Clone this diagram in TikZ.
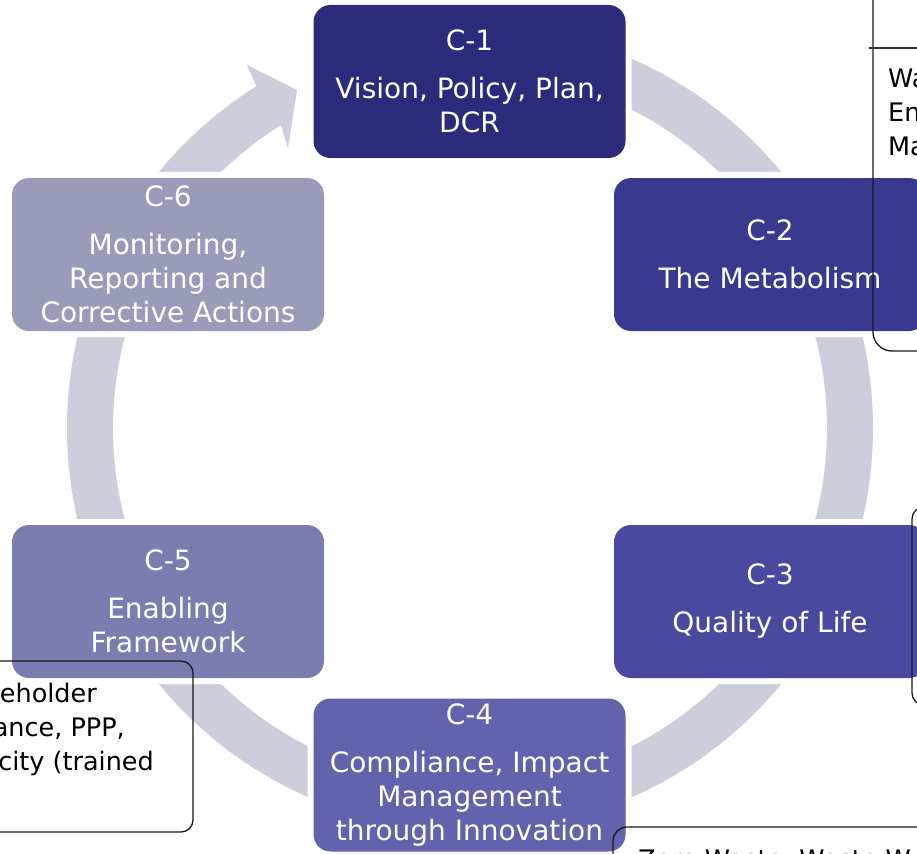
\documentclass[tikz,border=0pt]{standalone}
\usepackage{fontspec}
\setmainfont{DejaVu Sans}
\definecolor{ringc}{HTML}{CDCEDC}
\definecolor{cA}{HTML}{2B2A7B}
\definecolor{cB}{HTML}{393A8F}
\definecolor{cC}{HTML}{4949A0}
\definecolor{cD}{HTML}{6262AD}
\definecolor{cE}{HTML}{7C7CB1}
\definecolor{cF}{HTML}{9A9ABA}
\begin{document}
\begin{tikzpicture}[x=1pt,y=1pt,
  stagebox/.style={rounded corners=17pt, minimum width=312pt, minimum height=153pt,
    inner sep=0pt, align=center, text=white, font=\fontsize{28}{34}\selectfont,
    preaction={draw=white, line width=12pt}},
  callout/.style={draw=black!90, line width=1.3pt},
  ctext/.style={text=black, inner sep=0pt, font=\fontsize{25.5}{34}\selectfont}]
\useasboundingbox (0,0) rectangle (917,-853);
\fill[white] (0,0) rectangle (917,-853);
% cycle ring with arrow head
\fill[ringc] (470,-428) ++(90:403) arc[start angle=90, end angle=-238, radius=403]
  -- (247,-65) -- (297,-90) -- (288,-148) -- (280.82,-125.25)
  arc[start angle=-238, end angle=90, radius=357] -- cycle;
% stage boxes
\node[stagebox, fill=cA] (c1) at (469.5,-81.5) {C-1\\[14pt]Vision, Policy, Plan,\\DCR};
\node[stagebox, fill=cB] (c2) at (770,-254.5) {C-2\\[14pt]The Metabolism};
\node[stagebox, fill=cC] (c3) at (770,-601.5) {C-3\\[14pt]Quality of Life};
\node[stagebox, fill=cD] (c4) at (469.5,-775) {C-4\\[14pt]Compliance, Impact\\Management\\through Innovation};
\node[stagebox, fill=cE] (c5) at (168,-601.5) {C-5\\[14pt]Enabling\\Framework};
\node[stagebox, fill=cF] (c6) at (168,-254.5) {C-6\\[14pt]Monitoring,\\Reporting and\\Corrective Actions};
% callout outlines (partly outside the page)
\draw[callout, rounded corners=19pt] (873,10) -- (873,-351) -- (930,-351);
\draw[line width=2pt, black!80] (869,-48) -- (930,-48);
\draw[callout, rounded corners=12pt] (930,-507) -- (912,-507) -- (912,-705) -- (930,-705);
\draw[callout, rounded corners=12pt] (-10,-661) -- (193,-661) -- (193,-832) -- (-10,-832);
\draw[callout, rounded corners=14pt] (613,-870) -- (613,-827) -- (930,-827);
% callout texts
\node[ctext, anchor=base west] (t1) at (888,-88) {Wa};
\node[ctext, anchor=base west] (t2) at (888,-122) {En};
\node[ctext, anchor=base west] (t3) at (888,-156) {Ma};
\node[ctext, anchor=base east] (l1) at (97,-702) {eholder};
\node[ctext, anchor=base east] (l2) at (125,-736) {ance, PPP,};
\node[ctext, anchor=base east] (l3) at (154,-770) {city (trained};
\node[ctext, anchor=base west] (z1) at (638,-868) {Zero Waste, Waste W};
\end{tikzpicture}
\end{document}
